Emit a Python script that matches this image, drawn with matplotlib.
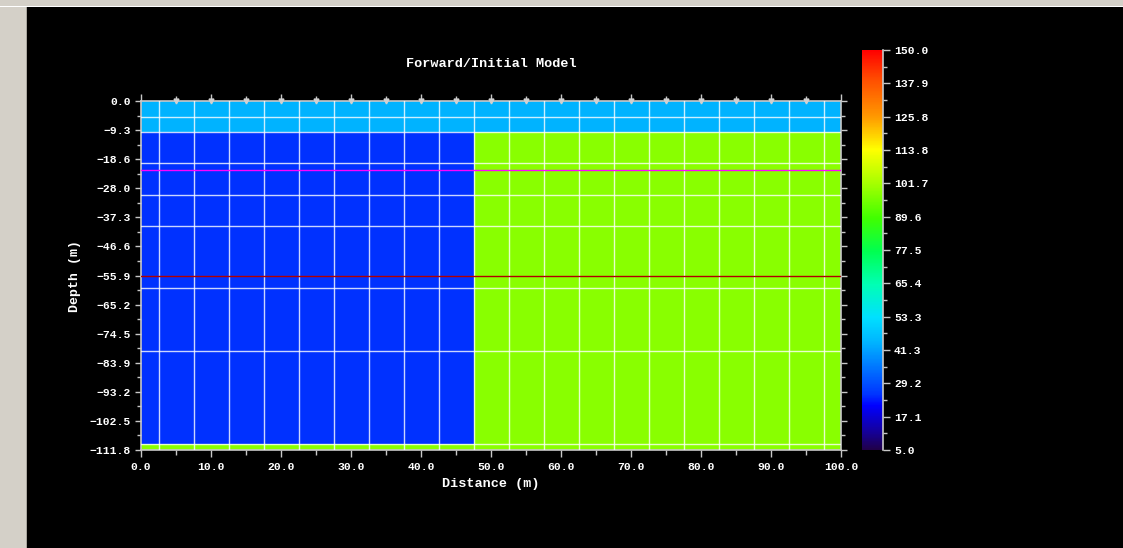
import numpy as np
import matplotlib
matplotlib.use('Agg')
import matplotlib.pyplot as plt
from matplotlib.colors import LinearSegmentedColormap, Normalize
from matplotlib.patches import Rectangle
import matplotlib.transforms as mtransforms

# ---------------- data ----------------
x_edges = [0.0, 47.5, 100.0]                 # model block boundaries (m)
depth_edges = [0.0, 10.0, 110.0, 111.8]      # layer boundaries (m, depth)
resistivity = [[44.0, 44.0],
               [25.0, 98.0],
               [98.0, 98.0]]
mesh_x = [2.5, 7.5, 12.5, 17.5, 22.5, 27.5, 32.5, 37.5, 42.5, 47.5,
          52.5, 57.5, 62.5, 67.5, 72.5, 77.5, 82.5, 87.5, 92.5, 97.5]
mesh_depth = [5.0, 10.0, 20.0, 30.0, 40.0, 60.0, 80.0, 110.0]
electrodes = [5, 10, 15, 20, 25, 30, 35, 40, 45, 50,
              55, 60, 65, 70, 75, 80, 85, 90, 95]
magenta_depth = 22.2
red_depth = 55.9
x_min, x_max = 0.0, 100.0
depth_max = 111.8
xtick_vals = [0, 10, 20, 30, 40, 50, 60, 70, 80, 90, 100]
xtick_labels = ["0.0", "10.0", "20.0", "30.0", "40.0", "50.0",
                "60.0", "70.0", "80.0", "90.0", "100.0"]
ytick_labels = ["0.0", "\u22129.3", "\u221218.6", "\u221228.0", "\u221237.3",
                "\u221246.6", "\u221255.9", "\u221265.2", "\u221274.5",
                "\u221283.9", "\u221293.2", "\u2212102.5", "\u2212111.8"]
vmin, vmax = 5.0, 150.0
cbar_labels = ["5.0", "17.1", "29.2", "41.3", "53.3", "65.4", "77.5",
               "89.6", "101.7", "113.8", "125.8", "137.9", "150.0"]

# ---------------- style ----------------
FONT = 'Liberation Mono'
WEIGHT = 'bold'
SPINE = '#C8C8C8'
anchors = [(5, '#200048'), (12, '#1400A0'), (21, '#0000FF'), (25, '#0033FF'),
           (44, '#00B4FF'), (53, '#00E0FF'), (65, '#00FFB4'), (77, '#00FF50'),
           (89, '#40FF00'), (98, '#88FF00'), (103, '#B0FF00'), (114, '#FFFF00'),
           (126, '#FF9800'), (139, '#FF5000'), (150, '#FF0000')]
cmap = LinearSegmentedColormap.from_list(
    'res', [((v - vmin) / (vmax - vmin), c) for v, c in anchors], N=512)
norm = Normalize(vmin=vmin, vmax=vmax)

W, H = 1123, 548
fig = plt.figure(figsize=(W / 100, H / 100), dpi=100, facecolor='black')

# window chrome
fig.patches.append(Rectangle((0, 1 - 6 / H), 1, 6 / H, transform=fig.transFigure,
                             facecolor='#D4D0C8', edgecolor='none', zorder=0))
fig.patches.append(Rectangle((0, 1 - 7 / H), 1, 1.2 / H, transform=fig.transFigure,
                             facecolor='white', edgecolor='none', zorder=0))
fig.patches.append(Rectangle((0, 0), 26 / W, 1 - 7 / H, transform=fig.transFigure,
                             facecolor='#D4D0C8', edgecolor='none', zorder=0))
fig.patches.append(Rectangle((26 / W, 0), 1 / W, 1 - 7 / H, transform=fig.transFigure,
                             facecolor='#A8A49C', edgecolor='none', zorder=0))

# main axes
ax = fig.add_axes([141 / W, 1 - 450 / H, 700 / W, 349 / H])
ax.set_facecolor('black')
y_edges = [-d for d in depth_edges]
ax.pcolormesh(x_edges, y_edges, resistivity, cmap=cmap, norm=norm, shading='flat')

for xv in mesh_x:
    ax.axvline(xv, color='white', lw=1.0, alpha=0.8, zorder=3)
for dv in mesh_depth:
    ax.axhline(-dv, color='white', lw=1.0, alpha=0.8, zorder=3)
ax.axhline(-magenta_depth, color='#FF00FF', lw=1.0, zorder=4)
ax.axhline(-red_depth, color='#B00000', lw=1.0, zorder=4)

ax.set_xlim(x_min, x_max)
ax.set_ylim(-depth_max, 0)

# x ticks (bottom & top)
ax.set_xticks(xtick_vals)
ax.set_xticklabels(xtick_labels)
ax.set_xticks([v + 5 for v in xtick_vals[:-1]], minor=True)
ax.xaxis.set_ticks_position('both')
ax.tick_params(axis='x', which='major', direction='out', length=5, width=1,
               color=SPINE, labelcolor='white', labelsize=8.2, pad=3.5)
ax.tick_params(axis='x', which='minor', direction='out', length=3.5, width=1,
               color=SPINE)

# y ticks (left & right)
yt = np.linspace(0, -depth_max, len(ytick_labels))
ax.set_yticks(yt)
ax.set_yticklabels(ytick_labels)
ax.set_yticks((yt[:-1] + yt[1:]) / 2, minor=True)
ax.yaxis.set_ticks_position('both')
ax.tick_params(axis='y', which='major', direction='out', length=4.5, width=1,
               color=SPINE, labelcolor='white', labelsize=8.2, pad=2.8)
ax.tick_params(axis='y', which='minor', direction='out', length=3, width=1,
               color=SPINE)
for lab in ax.get_xticklabels() + ax.get_yticklabels():
    lab.set_family(FONT)
    lab.set_weight(WEIGHT)

for sp in ax.spines.values():
    sp.set_color(SPINE)
    sp.set_linewidth(1.2)

# electrode arrows on top
trans = mtransforms.blended_transform_factory(ax.transData, ax.transAxes)
ax.plot(electrodes, [1.0] * len(electrodes), linestyle='none', marker='v',
        markersize=3.5, color='#D0D0D0', transform=trans, clip_on=False, zorder=6)

ax.set_xlabel('Distance (m)', color='white', fontsize=9.7, family=FONT, weight=WEIGHT)
ax.xaxis.set_label_coords(0.5, (450 - 484) / 349)
ax.xaxis.label.set_va('center')
ax.set_ylabel('Depth (m)', color='white', fontsize=9.5, family=FONT, weight=WEIGHT)
ax.yaxis.set_label_coords((75 - 141) / 700, 0.5)
ax.yaxis.label.set_va('center')

fig.text(491 / W, 1 - 64 / H, 'Forward/Initial Model', color='white',
         fontsize=9.7, family=FONT, weight=WEIGHT, ha='center', va='center')

# colorbar
cax = fig.add_axes([862 / W, 1 - 450 / H, 21 / W, 400 / H])
sm = plt.cm.ScalarMappable(norm=norm, cmap=cmap)
cb = fig.colorbar(sm, cax=cax)
cb.outline.set_visible(False)
ct = np.linspace(vmin, vmax, len(cbar_labels))
cb.set_ticks(ct)
cb.set_ticklabels(cbar_labels)
cax.set_yticks((ct[:-1] + ct[1:]) / 2, minor=True)
cax.tick_params(axis='y', which='major', direction='out', length=5, width=1,
                color=SPINE, labelcolor='white', labelsize=8.2, pad=3)
cax.tick_params(axis='y', which='minor', direction='out', length=3, width=1,
                color=SPINE)
for lab in cax.get_yticklabels():
    lab.set_family(FONT)
    lab.set_weight(WEIGHT)
cax.axvline(1.0, color=SPINE, lw=1.2, clip_on=False)

fig.savefig('out.png', dpi=100, facecolor='black')
